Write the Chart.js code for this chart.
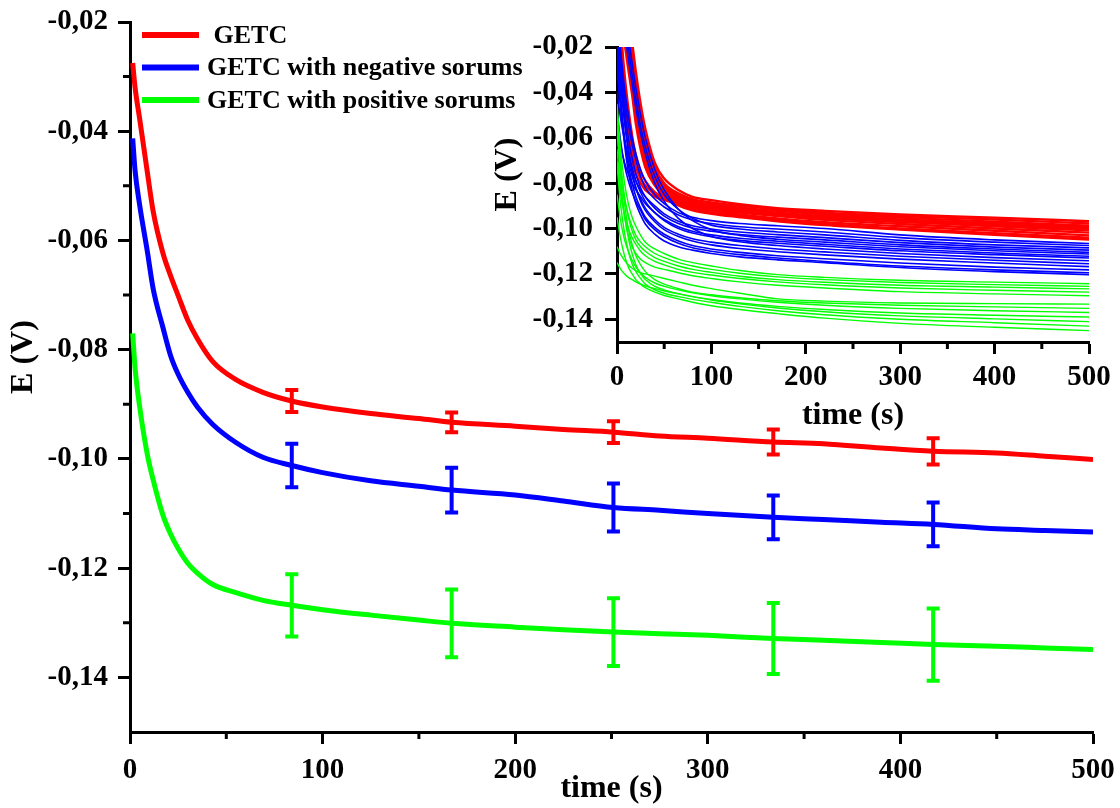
<!DOCTYPE html>
<html><head><meta charset="utf-8">
<script src="https://cdn.jsdelivr.net/npm/chart.js@4.4.1/dist/chart.umd.min.js"></script>
<style>
html,body{margin:0;padding:0;background:#fff;}
#wrap{position:relative;width:1120px;height:808px;overflow:hidden;background:#fff;}
#main{position:absolute;left:0;top:0;}
#inset{position:absolute;left:480px;top:20px;}
</style></head><body>
<div id="wrap"><canvas id="main" width="1120" height="808"></canvas><canvas id="inset" width="640" height="420"></canvas></div>
<script>
const FONT = "'Liberation Serif','Times New Roman',serif";

// ---------- main chart data ----------
const seriesLabels = [' GETC', 'GETC with negative sorums', 'GETC with positive sorums'];
const seriesColors = ['#ff0000', '#0000ff', '#00ff00'];
const mainTime = [1.4, 2.6, 5, 9, 12, 17, 21, 25, 30, 35, 43, 55, 69, 84, 100, 125, 150, 167, 200, 225, 251, 275, 300, 334, 360, 390, 417, 450, 475, 500];
const getcMain = [-0.0275,-0.0319,-0.0377,-0.0475,-0.0546,-0.0622,-0.0664,-0.0701,-0.0746,-0.0780,-0.0822,-0.0855,-0.0878,-0.0894,-0.0905,-0.0917,-0.0926,-0.0933,-0.0940,-0.0946,-0.0951,-0.0958,-0.0962,-0.0969,-0.0972,-0.0980,-0.0986,-0.0989,-0.0995,-0.1001];
const negMain  = [-0.0413,-0.0471,-0.0535,-0.0620,-0.0688,-0.0758,-0.0810,-0.0845,-0.0878,-0.0905,-0.0937,-0.0970,-0.0997,-0.1012,-0.1025,-0.1040,-0.1050,-0.1057,-0.1066,-0.1077,-0.1089,-0.1094,-0.1100,-0.1107,-0.1111,-0.1116,-0.1120,-0.1128,-0.1131,-0.1134];
const posMain  = [-0.0770,-0.0832,-0.0904,-0.0992,-0.1038,-0.1102,-0.1137,-0.1164,-0.1191,-0.1209,-0.1230,-0.1245,-0.1259,-0.1268,-0.1276,-0.1286,-0.1295,-0.1301,-0.1308,-0.1313,-0.1317,-0.1320,-0.1323,-0.1329,-0.1332,-0.1336,-0.1340,-0.1343,-0.1346,-0.1349];

const errTime = [84, 167, 251, 334, 417];
const getcErrMean = [-0.0894, -0.0933, -0.0951, -0.0969, -0.0986];
const getcErr     = [0.0020, 0.0018, 0.0020, 0.0023, 0.0024];
const negErrMean  = [-0.1012, -0.1057, -0.1089, -0.1107, -0.1120];
const negErr      = [0.0040, 0.0041, 0.0044, 0.0040, 0.0040];
const posErrMean  = [-0.1268, -0.1301, -0.1317, -0.1329, -0.1340];
const posErr      = [0.0057, 0.0062, 0.0062, 0.0065, 0.0066];

const xMajor = [0, 100, 200, 300, 400, 500];
const xMinor = [50, 150, 250, 350, 450];
const yMajor = [-0.14, -0.12, -0.10, -0.08, -0.06, -0.04, -0.02];
const yMinor = [-0.13, -0.11, -0.09, -0.07, -0.05, -0.03];

// ---------- inset data (individual runs) ----------
const insetTime = [0, 4, 8, 12, 16, 20, 25, 30, 40, 50, 65, 80, 100, 130, 170, 220, 300, 400, 500];
const getcRuns = [
 [0.030,0.015,0.002,-0.009,-0.018,-0.031,-0.045,-0.056,-0.071,-0.078,-0.083,-0.0860,-0.0875,-0.0893,-0.0910,-0.0922,-0.0938,-0.0952,-0.0968],
 [0.028,0.012,-0.001,-0.012,-0.022,-0.035,-0.049,-0.060,-0.073,-0.080,-0.0845,-0.0870,-0.0885,-0.0900,-0.0915,-0.0930,-0.0945,-0.0960,-0.0978],
 [0.025,0.010,-0.003,-0.014,-0.025,-0.038,-0.051,-0.062,-0.075,-0.081,-0.0855,-0.0878,-0.0893,-0.0908,-0.0922,-0.0937,-0.0952,-0.0970,-0.0988],
 [0.022,0.008,-0.006,-0.017,-0.028,-0.041,-0.054,-0.064,-0.076,-0.082,-0.0862,-0.0885,-0.0900,-0.0915,-0.0930,-0.0945,-0.0960,-0.0980,-0.0998],
 [0.020,0.005,-0.009,-0.020,-0.031,-0.044,-0.057,-0.066,-0.077,-0.083,-0.0870,-0.0892,-0.0907,-0.0922,-0.0937,-0.0953,-0.0970,-0.0990,-0.1008],
 [0.018,0.003,-0.011,-0.022,-0.033,-0.046,-0.058,-0.067,-0.078,-0.0838,-0.0878,-0.0900,-0.0915,-0.0930,-0.0945,-0.0962,-0.0980,-0.1000,-0.1018],
 [0.016,0.002,-0.013,-0.024,-0.035,-0.048,-0.060,-0.069,-0.079,-0.0845,-0.0885,-0.0907,-0.0922,-0.0938,-0.0955,-0.0972,-0.0990,-0.1010,-0.1030],
 [0.014,0.000,-0.015,-0.027,-0.038,-0.051,-0.062,-0.071,-0.080,-0.0852,-0.0890,-0.0912,-0.0930,-0.0945,-0.0962,-0.0980,-0.1000,-0.1020,-0.1040],
 [0.012,-0.003,-0.018,-0.030,-0.041,-0.054,-0.065,-0.073,-0.081,-0.0860,-0.0898,-0.0920,-0.0935,-0.0950,-0.0968,-0.0985,-0.1005,-0.1028,-0.1048],
 [-0.005,-0.030,-0.050,-0.062,-0.070,-0.076,-0.080,-0.083,-0.086,-0.0875,-0.0890,-0.0900,-0.0910,-0.0925,-0.0940,-0.0955,-0.0970,-0.0985,-0.1000],
 [0.000,-0.022,-0.042,-0.056,-0.066,-0.073,-0.078,-0.081,-0.085,-0.0870,-0.0885,-0.0897,-0.0908,-0.0922,-0.0935,-0.0950,-0.0965,-0.0980,-0.0995],
 [0.010,-0.012,-0.032,-0.047,-0.059,-0.068,-0.075,-0.079,-0.084,-0.0865,-0.0882,-0.0893,-0.0905,-0.0918,-0.0932,-0.0947,-0.0962,-0.0978,-0.0992]
];
const negRuns = [
 [-0.005,-0.022,-0.038,-0.050,-0.060,-0.067,-0.074,-0.079,-0.085,-0.089,-0.093,-0.0950,-0.0965,-0.0978,-0.0988,-0.1000,-0.1028,-0.1050,-0.1066],
 [-0.008,-0.026,-0.042,-0.054,-0.063,-0.070,-0.077,-0.082,-0.087,-0.0905,-0.0940,-0.0962,-0.0978,-0.0992,-0.1002,-0.1015,-0.1040,-0.1060,-0.1075],
 [0.020,0.005,-0.008,-0.020,-0.032,-0.043,-0.055,-0.064,-0.077,-0.085,-0.0915,-0.0955,-0.0985,-0.1002,-0.1015,-0.1028,-0.1052,-0.1072,-0.1085],
 [-0.040,-0.052,-0.061,-0.068,-0.074,-0.079,-0.083,-0.086,-0.090,-0.0935,-0.0968,-0.0988,-0.1002,-0.1015,-0.1027,-0.1040,-0.1062,-0.1082,-0.1095],
 [-0.010,-0.030,-0.047,-0.060,-0.069,-0.076,-0.082,-0.086,-0.091,-0.0945,-0.0978,-0.0998,-0.1012,-0.1026,-0.1038,-0.1050,-0.1072,-0.1090,-0.1105],
 [0.025,0.010,-0.003,-0.015,-0.027,-0.038,-0.050,-0.060,-0.074,-0.083,-0.0915,-0.0965,-0.1005,-0.1030,-0.1047,-0.1060,-0.1080,-0.1098,-0.1112],
 [-0.055,-0.064,-0.071,-0.076,-0.080,-0.083,-0.086,-0.089,-0.093,-0.0960,-0.0992,-0.1012,-0.1028,-0.1043,-0.1056,-0.1070,-0.1090,-0.1108,-0.1122],
 [-0.015,-0.036,-0.053,-0.065,-0.073,-0.079,-0.084,-0.088,-0.093,-0.0965,-0.1000,-0.1020,-0.1036,-0.1052,-0.1065,-0.1078,-0.1098,-0.1115,-0.1130],
 [0.015,0.000,-0.013,-0.025,-0.036,-0.047,-0.058,-0.067,-0.080,-0.088,-0.0955,-0.1000,-0.1035,-0.1058,-0.1075,-0.1090,-0.1110,-0.1128,-0.1142],
 [-0.030,-0.048,-0.061,-0.070,-0.077,-0.082,-0.087,-0.091,-0.096,-0.0995,-0.1025,-0.1045,-0.1060,-0.1075,-0.1090,-0.1103,-0.1122,-0.1140,-0.1155],
 [-0.012,-0.034,-0.052,-0.066,-0.075,-0.082,-0.088,-0.092,-0.097,-0.1005,-0.1035,-0.1055,-0.1072,-0.1088,-0.1102,-0.1116,-0.1135,-0.1152,-0.1168],
 [-0.020,-0.042,-0.060,-0.072,-0.080,-0.086,-0.091,-0.095,-0.0995,-0.1025,-0.1055,-0.1075,-0.1090,-0.1105,-0.1120,-0.1133,-0.1152,-0.1170,-0.1182],
 [-0.048,-0.062,-0.072,-0.079,-0.084,-0.088,-0.092,-0.096,-0.1005,-0.1035,-0.1065,-0.1085,-0.1100,-0.1115,-0.1130,-0.1145,-0.1165,-0.1182,-0.1195],
 [-0.025,-0.046,-0.063,-0.075,-0.083,-0.089,-0.094,-0.098,-0.1025,-0.1055,-0.1080,-0.1095,-0.1110,-0.1125,-0.1138,-0.1150,-0.1172,-0.1190,-0.1203]
];
const posRuns = [
 [-0.045,-0.066,-0.080,-0.089,-0.095,-0.099,-0.103,-0.106,-0.109,-0.111,-0.1135,-0.1150,-0.1165,-0.1185,-0.1203,-0.1215,-0.1228,-0.1236,-0.1243],
 [-0.058,-0.075,-0.087,-0.094,-0.099,-0.103,-0.106,-0.108,-0.111,-0.1128,-0.1150,-0.1165,-0.1180,-0.1197,-0.1213,-0.1225,-0.1238,-0.1247,-0.1255],
 [-0.050,-0.072,-0.086,-0.095,-0.101,-0.105,-0.108,-0.110,-0.1128,-0.1145,-0.1165,-0.1180,-0.1193,-0.1210,-0.1225,-0.1237,-0.1250,-0.1258,-0.1266],
 [-0.070,-0.085,-0.094,-0.100,-0.104,-0.107,-0.110,-0.112,-0.1145,-0.1160,-0.1180,-0.1193,-0.1205,-0.1220,-0.1235,-0.1248,-0.1262,-0.1272,-0.1280],
 [-0.065,-0.083,-0.095,-0.103,-0.108,-0.111,-0.1135,-0.115,-0.1170,-0.1180,-0.1195,-0.1208,-0.1220,-0.1235,-0.1250,-0.1262,-0.1278,-0.1288,-0.1296],
 [-0.108,-0.1115,-0.114,-0.116,-0.1175,-0.1185,-0.1195,-0.120,-0.1210,-0.1220,-0.1235,-0.1250,-0.1265,-0.1285,-0.1310,-0.1320,-0.1328,-0.1331,-0.1333],
 [-0.048,-0.072,-0.089,-0.100,-0.107,-0.112,-0.116,-0.119,-0.1225,-0.1245,-0.1265,-0.1280,-0.1292,-0.1305,-0.1318,-0.1328,-0.1338,-0.1345,-0.1352],
 [-0.085,-0.097,-0.105,-0.110,-0.114,-0.117,-0.1195,-0.1215,-0.1240,-0.1255,-0.1270,-0.1283,-0.1296,-0.1310,-0.1325,-0.1338,-0.1352,-0.1362,-0.1370],
 [-0.055,-0.078,-0.094,-0.104,-0.111,-0.116,-0.120,-0.1225,-0.1255,-0.1270,-0.1287,-0.1300,-0.1313,-0.1328,-0.1343,-0.1357,-0.1372,-0.1382,-0.1390],
 [-0.115,-0.118,-0.120,-0.1215,-0.1225,-0.1235,-0.1245,-0.1253,-0.1265,-0.1275,-0.1288,-0.1300,-0.1315,-0.1332,-0.1350,-0.1367,-0.1385,-0.1398,-0.1410],
 [-0.072,-0.090,-0.102,-0.110,-0.1155,-0.119,-0.122,-0.1245,-0.1270,-0.1285,-0.1300,-0.1312,-0.1325,-0.1343,-0.1362,-0.1380,-0.1400,-0.1415,-0.1430],
 [-0.095,-0.105,-0.112,-0.117,-0.120,-0.1225,-0.1245,-0.126,-0.1280,-0.1295,-0.1310,-0.1325,-0.1340,-0.1357,-0.1375,-0.1395,-0.1418,-0.1435,-0.1450]
];
const insetXMajor = [0, 100, 200, 300, 400, 500];
const insetXMinor = [50, 150, 250, 350, 450];
const insetYMajor = [-0.14, -0.12, -0.10, -0.08, -0.06, -0.04, -0.02];

// ---------- helpers / plugins ----------
const fmtE = v => v.toFixed(2).replace('.', ',');
const pts = (xs, ys) => xs.map((t, i) => ({x: t, y: ys[i]}));

const minorTicks = {
  id: 'minorTicks',
  afterDraw(chart, args, o) {
    const {ctx, chartArea: a, scales: {x, y}} = chart;
    ctx.save();
    ctx.strokeStyle = '#000';
    ctx.lineWidth = o.width;
    ctx.beginPath();
    (o.xs || []).forEach(v => { const p = x.getPixelForValue(v); ctx.moveTo(p, a.bottom); ctx.lineTo(p, a.bottom + o.len); });
    (o.ys || []).forEach(v => { const p = y.getPixelForValue(v); ctx.moveTo(a.left, p); ctx.lineTo(a.left - o.len, p); });
    ctx.stroke();
    ctx.restore();
  }
};

const errorBars = {
  id: 'errorBars',
  afterDatasetsDraw(chart) {
    const {ctx, scales: {x, y}} = chart;
    const sets = [[getcErrMean, getcErr, seriesColors[0]], [negErrMean, negErr, seriesColors[1]], [posErrMean, posErr, seriesColors[2]]];
    ctx.save();
    ctx.lineWidth = 4;
    sets.forEach(([m, e, c]) => {
      ctx.strokeStyle = c;
      errTime.forEach((t, i) => {
        const px = x.getPixelForValue(t);
        const y1 = y.getPixelForValue(m[i] + e[i]);
        const y2 = y.getPixelForValue(m[i] - e[i]);
        ctx.beginPath();
        ctx.moveTo(px, y1); ctx.lineTo(px, y2);
        ctx.moveTo(px - 6.5, y1); ctx.lineTo(px + 6.5, y1);
        ctx.moveTo(px - 6.5, y2); ctx.lineTo(px + 6.5, y2);
        ctx.stroke();
      });
    });
    ctx.restore();
  }
};

const seriesLegend = {
  id: 'seriesLegend',
  afterDraw(chart) {
    const ctx = chart.ctx;
    ctx.save();
    seriesLabels.forEach((lab, i) => {
      const yy = 35 + i * 32.5;
      ctx.strokeStyle = seriesColors[i];
      ctx.lineWidth = 6;
      ctx.beginPath(); ctx.moveTo(142, yy); ctx.lineTo(199, yy); ctx.stroke();
      ctx.fillStyle = '#000';
      ctx.font = 'bold 26px ' + FONT;
      ctx.textBaseline = 'middle';
      ctx.textAlign = 'left';
      ctx.fillText(lab, 207, yy + 1);
    });
    ctx.restore();
  }
};

function axisOpts(kind, o) {
  const isX = kind === 'x';
  return {
    type: 'linear',
    min: o.min, max: o.max,
    afterBuildTicks: s => { s.ticks = o.major.map(v => ({value: v})); },
    afterFit: s => {
      if (isX) s.height = o.size; else s.width = o.size;
      s.paddingLeft = 0; s.paddingRight = 0; s.paddingTop = 0; s.paddingBottom = 0;
    },
    border: {display: true, color: '#000', width: 3},
    grid: {drawOnChartArea: false, drawTicks: true, tickLength: 12, tickWidth: 3, tickColor: '#000'},
    ticks: {
      autoSkip: false, maxRotation: 0, color: '#000', padding: o.pad,
      font: {family: FONT, size: 29, weight: 'bold'},
      callback: isX ? (v => String(v)) : fmtE
    },
    title: {display: true, text: o.title, color: '#000', font: {family: FONT, size: 32, weight: 'bold'}, padding: o.tpad}
  };
}

Chart.defaults.font.family = FONT;

// ---------- main chart ----------
const mainSeries = [getcMain, negMain, posMain];
new Chart(document.getElementById('main'), {
  type: 'line',
  data: {
    datasets: mainSeries.map((s, i) => ({
      label: seriesLabels[i], data: pts(mainTime, s), borderColor: seriesColors[i],
      borderWidth: 5, pointRadius: 0, fill: false, cubicInterpolationMode: 'monotone'
    }))
  },
  options: {
    responsive: false, animation: false, events: [],
    layout: {padding: {left: 0, top: 22, right: 27, bottom: 0}},
    plugins: {legend: {display: false}, tooltip: {enabled: false},
      minorTicks: {xs: xMinor, ys: yMinor, len: 7, width: 3}},
    scales: {
      x: axisOpts('x', {min: 0, max: 500, major: xMajor, size: 76, pad: 9, title: 'time (s)', tpad: {top: 0, bottom: 0}}),
      y: axisOpts('y', {min: -0.15, max: -0.02, major: yMajor, size: 130, pad: 10, title: '     E (V)', tpad: {top: 5, bottom: 0}})
    }
  },
  plugins: [minorTicks, errorBars, seriesLegend]
});

// ---------- inset chart ----------
const insetSets = [];
posRuns.forEach(r => insetSets.push({data: pts(insetTime, r), borderColor: seriesColors[2], borderWidth: 1.4}));
negRuns.forEach(r => insetSets.push({data: pts(insetTime, r), borderColor: seriesColors[1], borderWidth: 1.6}));
getcRuns.forEach(r => insetSets.push({data: pts(insetTime, r), borderColor: seriesColors[0], borderWidth: 2.4}));
insetSets.forEach(d => { d.pointRadius = 0; d.fill = false; d.cubicInterpolationMode = 'monotone'; });

new Chart(document.getElementById('inset'), {
  type: 'line',
  data: {datasets: insetSets},
  options: {
    responsive: false, animation: false, events: [],
    layout: {padding: {left: 0, top: 27, right: 31, bottom: 0}},
    plugins: {legend: {display: false}, tooltip: {enabled: false},
      minorTicks: {xs: insetXMinor, ys: [], len: 7, width: 3}},
    scales: {
      x: axisOpts('x', {min: 0, max: 500, major: insetXMajor, size: 98, pad: 6, title: 'time (s)', tpad: {top: 0, bottom: 5}}),
      y: axisOpts('y', {min: -0.15, max: -0.02, major: insetYMajor, size: 137, pad: 12, title: '     E (V)', tpad: {top: 9, bottom: 0}})
    }
  },
  plugins: [minorTicks]
});
</script>
</body></html>
